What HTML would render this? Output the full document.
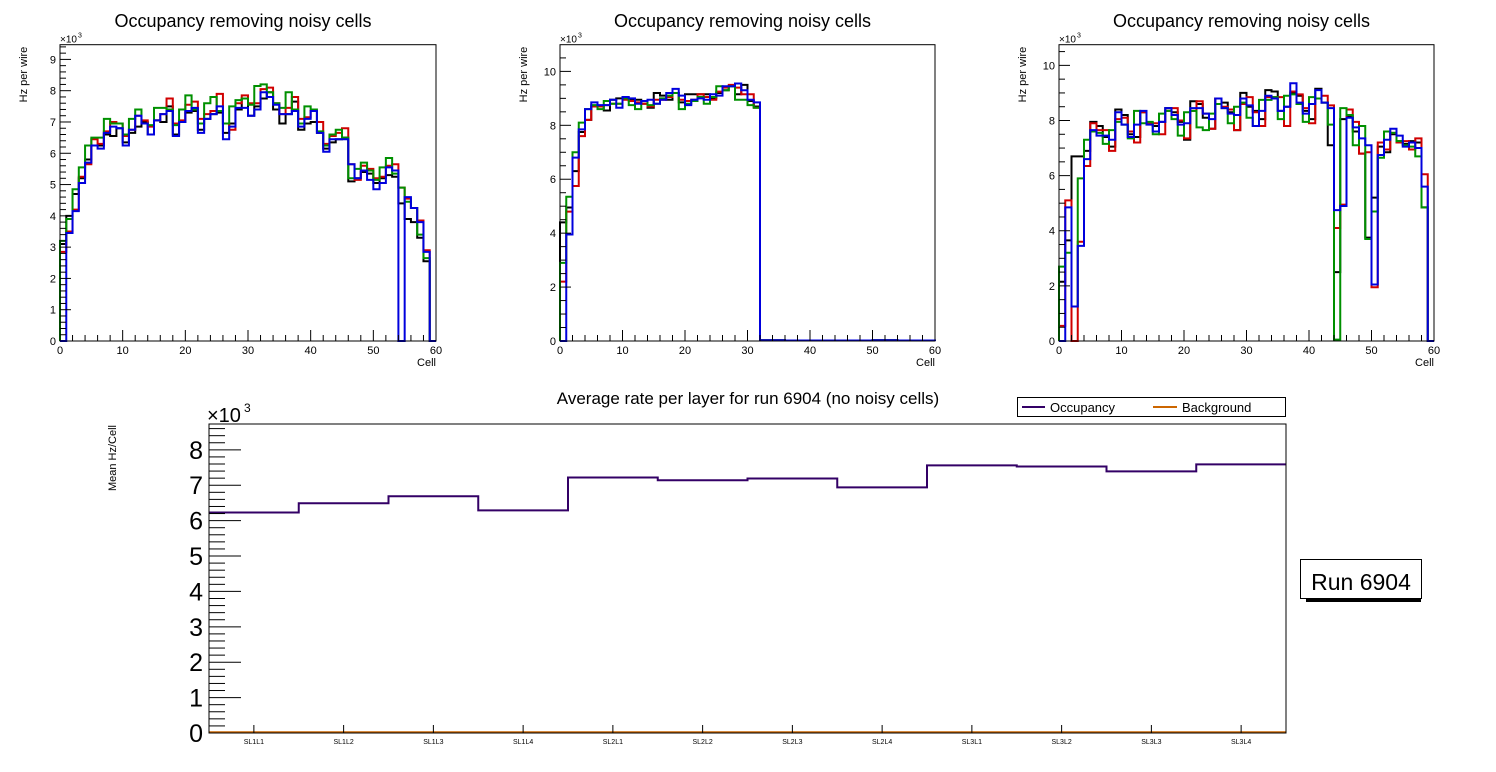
<!DOCTYPE html>
<html><head><meta charset="utf-8"><style>
html,body{margin:0;padding:0;background:#fff;}
svg{display:block;font-family:"Liberation Sans",sans-serif;}
</style></head><body>
<svg id="c" width="1496" height="772" viewBox="0 0 1496 772" xmlns="http://www.w3.org/2000/svg"></svg>
<script>
const p1Black=[3.1,4.0,4.7,5.2,5.8,6.25,6.25,6.6,6.55,6.8,6.35,6.65,6.85,7.0,6.6,7.05,7.0,7.5,6.6,7.0,7.3,7.35,6.75,7.1,7.25,7.3,6.65,6.95,7.4,7.75,7.2,7.5,7.75,7.95,7.4,6.95,7.25,7.65,6.75,6.95,7.0,6.65,6.15,6.35,6.45,6.5,5.1,5.2,5.4,5.35,5.05,5.2,5.3,5.25,4.4,3.9,3.8,3.3,2.55,0];
const p1Red=[2.85,3.5,4.2,5.25,5.65,6.45,6.3,6.7,7.0,6.95,6.55,6.75,7.2,7.05,6.85,7.05,7.25,7.75,6.95,7.05,7.55,7.65,7.1,7.25,7.35,7.9,6.95,6.75,7.6,7.85,7.6,7.6,8.05,8.1,7.6,7.25,7.45,7.8,7.1,7.15,7.35,7.0,6.3,6.55,6.65,6.8,5.65,5.15,5.6,5.5,5.2,5.25,5.6,5.65,4.9,4.55,4.25,3.85,2.9,0];
const p1Green=[3.2,3.9,4.85,5.55,6.25,6.5,6.5,7.1,6.95,6.95,6.6,7.1,7.4,6.95,6.9,7.45,7.45,7.4,6.9,7.4,7.85,7.4,6.95,7.6,7.8,7.35,6.95,7.5,7.7,7.75,7.55,8.15,8.2,7.95,7.6,7.45,7.95,7.4,6.95,7.5,7.4,6.7,6.25,6.6,6.75,6.5,5.2,5.5,5.7,5.45,5.15,5.55,5.85,5.35,4.9,4.45,4.25,3.4,2.65,0];
const p1Blue=[0,3.45,4.15,5.05,5.7,6.25,6.15,6.65,6.85,6.8,6.25,6.75,7.2,6.95,6.6,7.05,7.25,7.35,6.55,7.0,7.35,7.45,6.65,7.1,7.25,7.5,6.45,6.85,7.45,7.45,7.2,7.4,7.95,7.8,7.55,7.25,7.25,7.35,6.85,7.1,7.35,6.65,6.05,6.45,6.45,6.45,5.65,5.2,5.45,5.15,4.85,5.05,5.55,5.45,0,4.6,4.25,3.8,2.85,0];
const tail=[0.03,0.03,0.03,0.03,0.02,0.02,0.02,0.02,0.02,0.02,0.02,0.02,0.02,0.02,0.02,0.02,0.02,0.02,0.03,0.03,0.03,0.03,0.02,0.02,0.02,0.02,0.02,0.02];
const p2Black=[4.4,4.95,6.3,7.75,8.2,8.7,8.7,8.55,8.95,9.0,9.0,8.95,8.95,8.8,8.65,9.2,9.1,8.95,9.2,8.85,9.15,9.15,9.15,9.15,9.0,9.2,9.3,9.45,9.15,9.5,8.9,8.7].concat(tail);
const p2Red=[2.2,4.8,5.75,7.6,8.2,8.7,8.7,8.75,8.8,8.8,8.95,8.9,8.85,8.8,8.7,8.95,8.95,9.05,9.2,8.95,8.9,8.95,9.15,9.05,8.95,9.25,9.4,9.5,9.4,9.15,9.15,8.65].concat(tail);
const p2Green=[2.9,5.35,7.0,8.1,8.6,8.75,8.6,8.9,8.8,8.8,9.0,8.75,8.6,8.9,8.75,8.8,9.0,9.1,9.2,8.6,8.8,8.9,9.05,8.8,9.05,9.45,9.3,9.45,8.95,8.95,8.75,8.65].concat(tail);
const p2Blue=[0,3.95,6.8,7.85,8.6,8.85,8.75,8.75,8.95,8.65,9.05,9.0,8.8,8.9,8.95,8.8,8.95,9.2,9.35,9.1,8.75,8.95,9.0,8.95,9.15,9.1,9.45,9.45,9.55,9.3,8.95,8.85].concat(tail);
const p3Black=[2.15,3.65,6.7,6.7,6.9,7.95,7.8,7.4,7.05,8.4,8.2,7.5,7.4,8.3,7.9,7.8,7.95,8.45,8.3,7.95,7.3,8.7,8.6,8.1,7.7,8.8,8.65,8.3,7.65,9.0,8.5,8.35,8.05,9.1,9.05,8.35,8.5,9.0,8.9,8.35,8.05,9.15,8.65,7.1,2.5,8.05,8.15,7.6,6.8,3.75,5.2,7.05,6.85,7.5,7.25,7.15,7.25,7.2,4.85,0];
const p3Red=[0.55,5.1,0,3.6,6.35,7.9,7.65,7.65,6.9,8.05,8.1,7.6,7.2,8.3,7.9,7.9,7.5,8.35,8.45,8.0,7.35,8.35,8.7,8.25,7.7,8.8,8.5,8.4,7.65,8.6,8.85,8.3,7.8,8.85,8.85,8.85,7.8,9.05,8.95,8.45,7.9,8.8,8.9,8.55,4.1,4.95,8.4,7.95,6.8,6.85,1.95,7.2,6.95,7.55,7.2,7.25,6.95,7.35,6.05,0];
const p3Green=[2.7,3.2,1.25,5.9,7.3,7.6,7.55,7.15,7.65,7.95,7.85,7.35,8.35,7.9,7.95,7.5,8.25,8.35,8.05,7.45,8.3,8.35,7.75,7.65,8.25,8.6,8.45,7.9,8.5,8.65,8.1,7.8,8.75,8.75,8.85,8.05,8.9,8.95,8.6,7.95,8.85,8.8,8.65,7.85,0.05,8.45,8.2,7.1,7.8,3.7,4.7,6.65,7.6,7.55,7.25,7.1,7.05,6.7,4.85,0];
const p3Blue=[0,4.85,1.25,3.45,6.6,7.65,7.45,7.45,7.3,8.3,7.85,7.4,7.85,8.35,7.85,7.6,7.95,8.45,8.2,7.85,7.9,8.45,8.45,8.25,8.05,8.8,8.45,8.25,8.2,8.8,8.55,7.8,8.35,8.9,8.8,8.35,8.5,9.35,8.65,8.25,8.6,9.1,8.65,8.45,4.75,4.9,8.1,7.75,7.35,7.1,2.05,6.75,7.3,7.7,7.45,7.05,7.2,7.0,5.6,0];
const layerNames=["SL1L1","SL1L2","SL1L3","SL1L4","SL2L1","SL2L2","SL2L3","SL2L4","SL3L1","SL3L2","SL3L3","SL3L4"];
const occupancy=[6.23,6.49,6.69,6.29,7.22,7.14,7.19,6.94,7.56,7.53,7.39,7.59];
const background=[0.02,0.02,0.02,0.02,0.02,0.02,0.02,0.02,0.02,0.02,0.02,0.02];

const NS="http://www.w3.org/2000/svg";
const svg=document.getElementById('c');
function mk(tag,attrs,parent,txt){const e=document.createElementNS(NS,tag);for(const k in attrs)e.setAttribute(k,attrs[k]);if(txt!==undefined)e.textContent=txt;(parent||svg).appendChild(e);return e;}

function panel(idx,fx0,fx1,fy0,fy1,ymax,yMajor,ySub,series){
  const g=mk('g',{});
  
  
  const X=v=>fx0+(fx1-fx0)*v/60, Y=v=>fy1-(fy1-fy0)*v/ymax;
  const t=mk('text',{x:(fx0+fx1)/2-5,y:27,'font-size':18,'text-anchor':'middle'},g,'Occupancy removing noisy cells');
  
  
  const colors=['#000','#d00000','#009000','#0000dd'];
  series.forEach((s,si)=>{
    let d='M'+X(0)+','+Y(0);
    s.forEach((v,i)=>{d+=' L'+X(i)+','+Y(v)+' L'+X(i+1)+','+Y(v);});
    d+=' L'+X(60)+','+Y(0);
    const p=mk('path',{d:d,fill:'none',stroke:colors[si],'stroke-width':2},g);
    
    
  });
  const f=mk('rect',{x:fx0,y:fy0,width:fx1-fx0,height:fy1-fy0,fill:'none',stroke:'#000','stroke-width':1},g);
  
  
  for(let c=0;c<=60;c+=2){const maj=c%10===0;mk('line',{x1:X(c),x2:X(c),y1:fy1,y2:fy1-(maj?11:6),stroke:'#000'},g);
    if(maj){const l=mk('text',{x:X(c),y:fy1+13,'font-size':11,'text-anchor':'middle'},g,c);}}
  const step=yMajor/ySub;
  for(let k=0;k*step<=ymax+1e-9;k++){const v=k*step;const maj=k%ySub===0;mk('line',{x1:fx0,x2:fx0+(maj?11:6),y1:Y(v),y2:Y(v),stroke:'#000'},g);
    if(maj){const l=mk('text',{x:fx0-4,y:Y(v)+4,'font-size':11,'text-anchor':'end'},g,Math.round(v));}}
  const xt=mk('text',{x:fx1,y:fy1+25,'font-size':11,'text-anchor':'end'},g,'Cell');
  
  const yt=mk('text',{x:0,y:0,'font-size':11,'text-anchor':'end',transform:'translate('+(fx0-33)+','+(fy0+2)+') rotate(-90)'},g,'Hz per wire');
  
  const ex=mk('text',{x:fx0,y:fy0-2,'font-size':10},g,'\u00d710');
  
  mk('text',{x:fx0+18,y:fy0-7,'font-size':7},g,'3');
}
panel(1,60,436,44.7,341,9.47,1,5,[p1Black,p1Red,p1Green,p1Blue]);
panel(2,560,935,44.7,341,10.99,2,4,[p2Black,p2Red,p2Green,p2Blue]);
panel(3,1059,1434,44.7,341,10.75,2,4,[p3Black,p3Red,p3Green,p3Blue]);

// bottom chart
(function(){
  const g=mk('g',{});
  
  
  const fx0=209,fx1=1286,fy0=424,fy1=733,ymax=8.73,n=layerNames.length;
  const X=i=>fx0+(fx1-fx0)*i/n, Y=v=>fy1-(fy1-fy0)*v/ymax;
  const t=mk('text',{x:748,y:404,'font-size':17,'text-anchor':'middle'},g,'Average rate per layer for run 6904 (no noisy cells)');
  
  function step(arr,color,name){let d='';arr.forEach((v,i)=>{d+=(i===0?'M':' L')+X(i)+','+Y(v)+' L'+X(i+1)+','+Y(v);});
    const p=mk('path',{d:d,fill:'none',stroke:color,'stroke-width':2},g);}
  step(background,'#cc6600','background-line');
  step(occupancy,'#330066','occupancy-line');
  const f=mk('rect',{x:fx0,y:fy0,width:fx1-fx0,height:fy1-fy0,fill:'none',stroke:'#000'},g);
  
  for(let k=0;k*0.2<=ymax;k++){const v=k*0.2;const maj=k%5===0;mk('line',{x1:fx0,x2:fx0+(maj?32:16),y1:Y(v),y2:Y(v),stroke:'#000'},g);
    if(maj){const l=mk('text',{x:fx0-6,y:Y(v)+9,'font-size':25,'text-anchor':'end'},g,Math.round(v));}}
  layerNames.forEach((nm,i)=>{const cx=(X(i)+X(i+1))/2;mk('line',{x1:cx,x2:cx,y1:fy1,y2:fy1-8,stroke:'#000'},g);
    const l=mk('text',{x:cx,y:744,'font-size':7,'text-anchor':'middle'},g,nm);});
  const ex=mk('text',{x:fx0-2,y:fy0-2,'font-size':20},g,'\u00d710');
  
  mk('text',{x:fx0+35,y:fy0-12,'font-size':12},g,'3');
  const yt=mk('text',{x:0,y:0,'font-size':11,'text-anchor':'end',transform:'translate(116,425) rotate(-90)'},g,'Mean Hz/Cell');
  
  const lg=mk('g',{},g);
  
  mk('rect',{x:1017.5,y:397.5,width:268,height:19,fill:'#fff',stroke:'#000'},lg);
  mk('line',{x1:1022,x2:1045,y1:407,y2:407,stroke:'#330066','stroke-width':2},lg);
  const e1=mk('text',{x:1050,y:412,'font-size':13},lg,'Occupancy');
  mk('line',{x1:1153,x2:1177,y1:407,y2:407,stroke:'#cc6600','stroke-width':2},lg);
  const e2=mk('text',{x:1182,y:412,'font-size':13},lg,'Background');
  const rb=mk('g',{},g);
  
  mk('rect',{x:1306,y:598,width:115,height:4,fill:'#000'},rb);
  mk('rect',{x:1300.5,y:559.5,width:121,height:39,fill:'#fff',stroke:'#000'},rb);
  mk('text',{x:1361,y:590,'font-size':23,'text-anchor':'middle'},rb,'Run 6904');
})();
</script>
</body></html>
